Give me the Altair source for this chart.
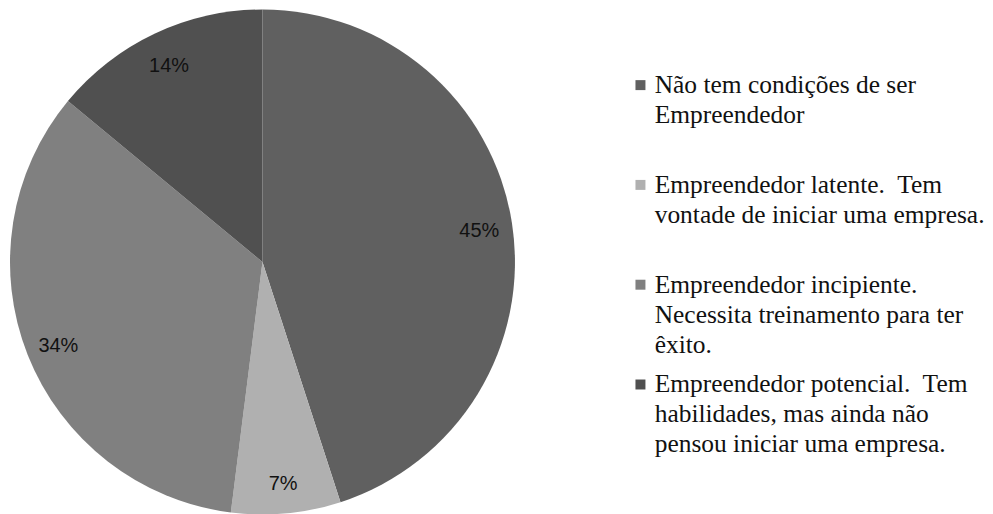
import altair as alt
import pandas as pd

categories = [
    "Não tem condições de ser\nEmpreendedor\n",
    "Empreendedor latente.\u00a0 Tem\nvontade de iniciar uma empresa.\n",
    "Empreendedor incipiente.\nNecessita treinamento para ter\nêxito.",
    "Empreendedor potencial.\u00a0 Tem\nhabilidades, mas ainda não\npensou iniciar uma empresa.",
]
values = [45, 7, 34, 14]
labels = ["45%", "7%", "34%", "14%"]
colors = ["#606060", "#b0b0b0", "#808080", "#505050"]

df = pd.DataFrame({
    "cat": categories,
    "value": values,
    "label": labels,
    "idx": list(range(len(values))),
})

base = alt.Chart(df).encode(
    theta=alt.Theta("value:Q", stack=True),
    order=alt.Order("idx:Q"),
)

pie = base.mark_arc(outerRadius=253, strokeWidth=0).encode(
    color=alt.Color(
        "cat:N",
        scale=alt.Scale(domain=categories, range=colors),
        sort=categories,
        legend=alt.Legend(
            title=None,
            orient="none",
            legendX=621,
            legendY=72,
            symbolType="M-1,-2.6H1V-0.6H-1Z",
            symbolSize=100,
            symbolStrokeWidth=0,
            labelFont="Liberation Serif",
            labelFontSize=25.5,
            labelColor="#111111",
            labelBaseline="alphabetic",
            labelLimit=600,
            labelOffset=1.5,
            labelExpr="split(datum.label, '\\n')",
            rowPadding=13,
            padding=0,
        ),
    )
)

text = base.mark_text(
    radius=220, dy=3, font="Liberation Sans", fontSize=20, color="#111111"
).encode(text="label:N")

chart = (
    alt.layer(pie, text)
    .properties(width=510, height=508)
    .configure(padding=0, style={"guide-label": {"lineHeight": 30}})
    .configure_view(stroke=None)
)

chart.save("out.html", embed_options={"renderer": "svg", "actions": False})
